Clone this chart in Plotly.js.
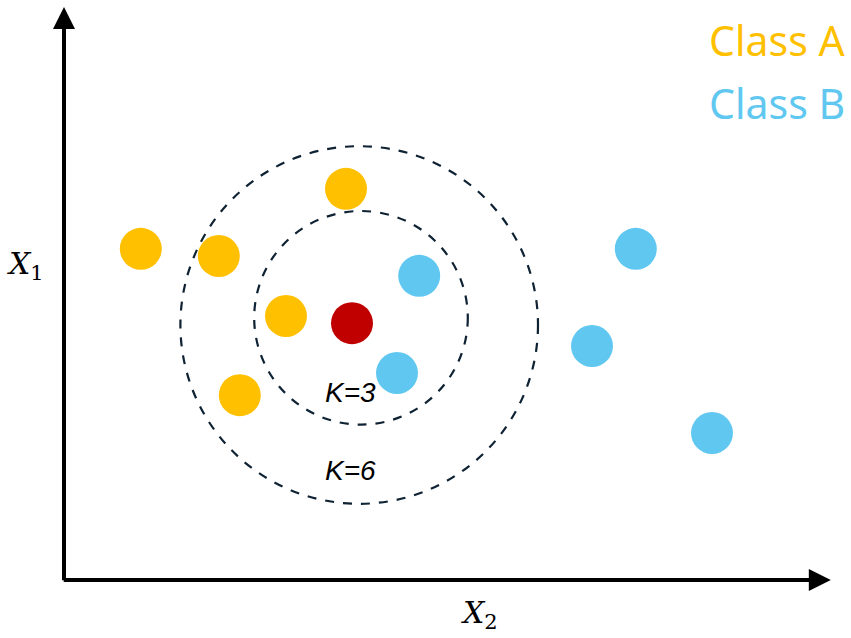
<!DOCTYPE html>
<html><head><meta charset="utf-8">
<script src="https://cdn.plot.ly/plotly-3.0.1.min.js"></script>
<style>html,body{margin:0;padding:0;background:#fff}</style>
</head><body><div id="chart" style="width:851px;height:638px"></div>
<script>
// Data (arbitrary units; origin at axis corner)
const classAX = [1.28, 2.58, 4.70, 3.70, 2.93];
const classAY = [5.52, 5.40, 6.52, 4.40, 3.08];
const classBX = [5.92, 5.55, 9.53, 8.80, 10.80];
const classBY = [5.07, 3.45, 5.52, 3.90, 2.45];
const queryX = [4.80];
const queryY = [4.28];
const circleLabels = ["K=3", "K=6"];
const circleCX = [4.95, 4.92];
const circleCY = [4.37, 4.25];
const circleR = [1.78, 2.98];
const labelX = [4.77, 4.77];
const labelY = [3.12, 1.83];
const legendNames = ["Class A", "Class B"];

const colA = "#FFC000", colB = "#60C8F0", colQ = "#C00000";

const traces = [
  {x: classAX, y: classAY, mode: "markers", type: "scatter", name: legendNames[0],
   marker: {color: colA, size: 42}, hoverinfo: "skip"},
  {x: classBX, y: classBY, mode: "markers", type: "scatter", name: legendNames[1],
   marker: {color: colB, size: 42}, hoverinfo: "skip"},
  {x: queryX, y: queryY, mode: "markers", type: "scatter", name: "query",
   marker: {color: colQ, size: 42}, hoverinfo: "skip"}
];

const shapes = circleR.map((r, i) => ({
  type: "circle", xref: "x", yref: "y",
  x0: circleCX[i] - r, x1: circleCX[i] + r, y0: circleCY[i] - r, y1: circleCY[i] + r,
  line: {color: "#0E2233", width: 2.2, dash: "dash"}, layer: "below"
}));

const annotations = [
  // axes with arrows
  {x: 0, y: 9.55, ax: 0, ay: -0.03, axref: "x", ayref: "y", xref: "x", yref: "y",
   showarrow: true, arrowhead: 2, arrowsize: 1.1, arrowwidth: 4, arrowcolor: "#000", text: ""},
  {x: 12.78, y: 0, ax: -0.03, ay: 0, axref: "x", ayref: "y", xref: "x", yref: "y",
   showarrow: true, arrowhead: 2, arrowsize: 1.1, arrowwidth: 4, arrowcolor: "#000", text: ""},
  // circle labels
  ...circleLabels.map((t, i) => ({x: labelX[i], y: labelY[i], xref: "x", yref: "y", showarrow: false,
    text: "<i>" + t + "</i>", font: {family: "Liberation Sans, Arial, sans-serif", size: 28, color: "#000"}})),
  // class labels
  {x: 13.05, y: 9.0, xref: "x", yref: "y", xanchor: "right", showarrow: false, text: legendNames[0],
   font: {family: "Noto Sans, sans-serif", size: 41, color: colA}},
  {x: 13.05, y: 7.95, xref: "x", yref: "y", xanchor: "right", showarrow: false, text: legendNames[1],
   font: {family: "Noto Sans, sans-serif", size: 41, color: colB}},
  // axis labels
  {x: -0.65, y: 5.25, xref: "x", yref: "y", showarrow: false, text: "<i>X</i><sub>1</sub>",
   font: {family: "DejaVu Serif, serif", size: 30, color: "#000"}},
  {x: 6.92, y: -0.58, xref: "x", yref: "y", showarrow: false, text: "<i>X</i><sub>2</sub>",
   font: {family: "DejaVu Serif, serif", size: 30, color: "#000"}}
];

const layout = {
  width: 851, height: 638,
  margin: {l: 0, r: 0, t: 0, b: 0},
  paper_bgcolor: "#fff", plot_bgcolor: "#fff",
  showlegend: false,
  xaxis: {range: [-64/60, 787/60], visible: false, fixedrange: true},
  yaxis: {range: [-58/60, 580/60], visible: false, fixedrange: true},
  shapes: shapes,
  annotations: annotations
};

Plotly.newPlot("chart", traces, layout, {staticPlot: true});
</script></body></html>
